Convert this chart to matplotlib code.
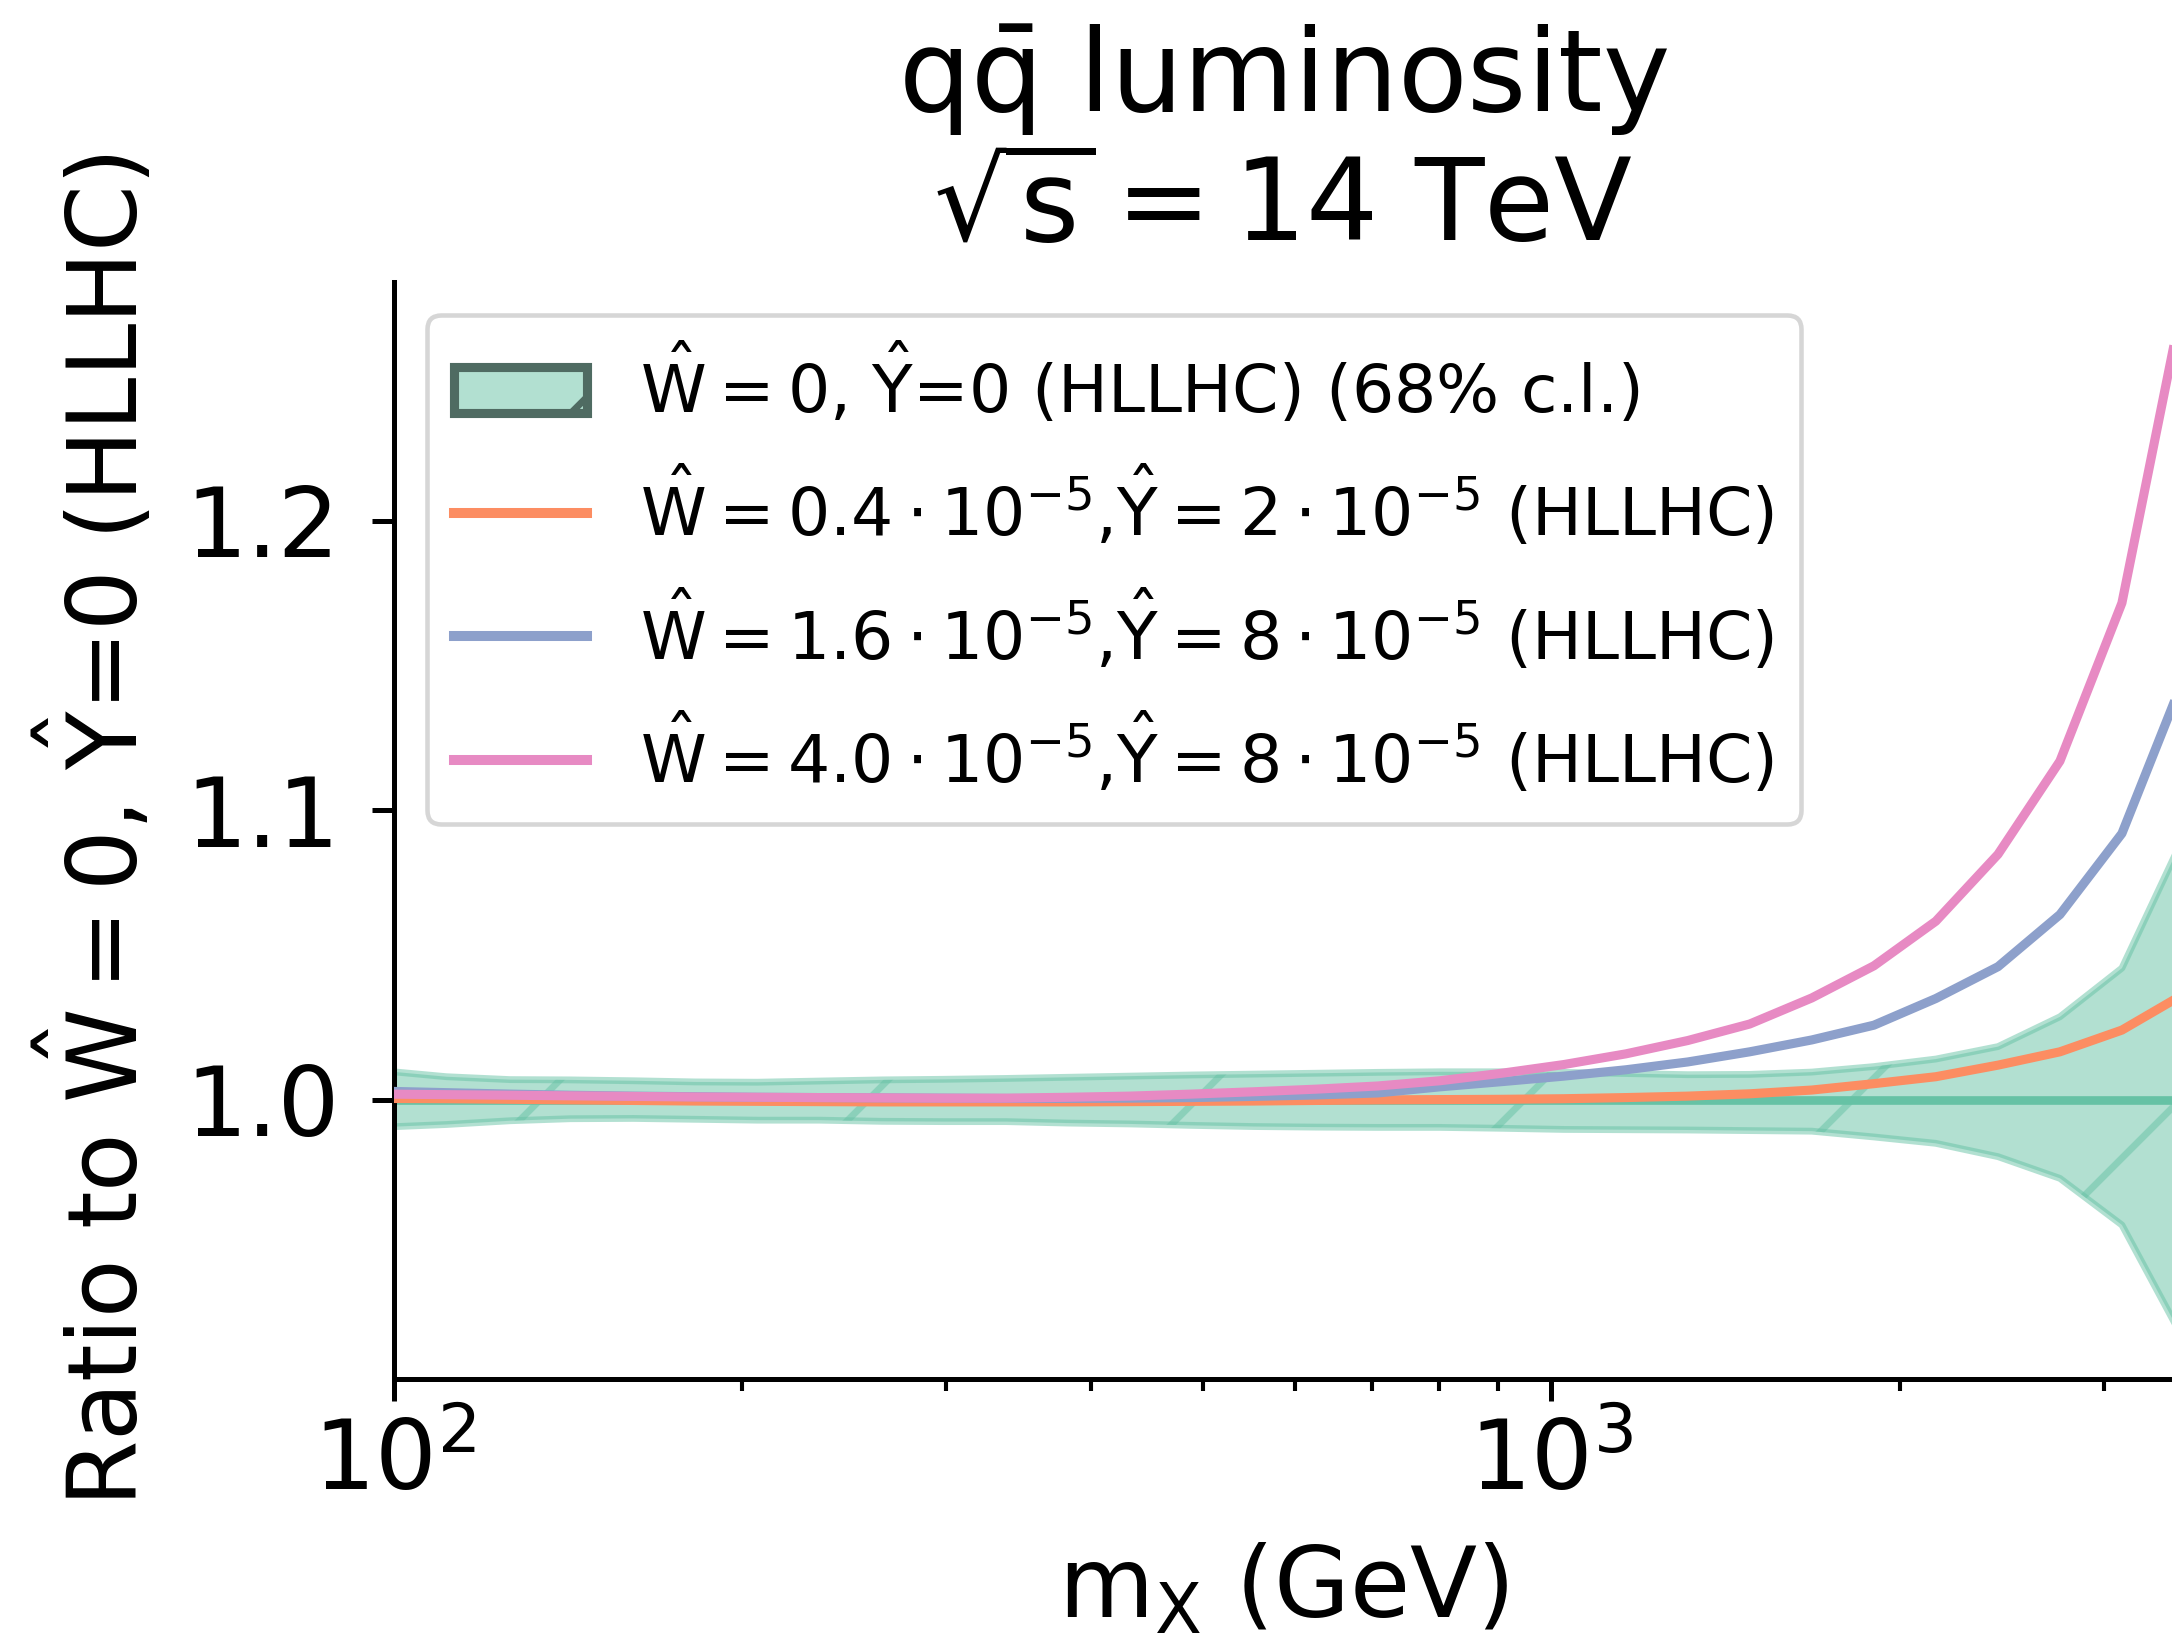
import numpy as np
import matplotlib.pyplot as plt
from matplotlib.patches import Patch
from matplotlib.ticker import MultipleLocator
from matplotlib.backend_bases import GraphicsContextBase

plt.rcParams['mathtext.default'] = 'regular'
plt.rcParams['hatch.linewidth'] = 1.5

# rayado más espaciado (como en el original)
_hatch_path = GraphicsContextBase.get_hatch_path
def _hatch_ralo(self, density=6.0):
    return _hatch_path(self, density=2.0)
GraphicsContextBase.get_hatch_path = _hatch_ralo

# ── datos ────────────────────────────────────────────────────────────────────
mx = [98, 111, 126, 142, 161, 182, 206, 233, 264, 298,
      338, 382, 432, 489, 553, 626, 708, 801, 906, 1025,
      1160, 1312, 1484, 1679, 1900, 2149, 2432, 2751, 3112, 3522]

band_hi = [1.0100, 1.0080, 1.0070, 1.0069, 1.0066, 1.0062, 1.0061, 1.0065, 1.0069, 1.0071,
           1.0074, 1.0078, 1.0082, 1.0086, 1.0089, 1.0092, 1.0095, 1.0097, 1.0097, 1.0095,
           1.0091, 1.0087, 1.0088, 1.0096, 1.0115, 1.0141, 1.0184, 1.0287, 1.0455, 1.0912]
band_lo = [0.9906, 0.9915, 0.9928, 0.9935, 0.9936, 0.9933, 0.9930, 0.9930, 0.9926, 0.9925,
           0.9925, 0.9920, 0.9917, 0.9912, 0.9908, 0.9906, 0.9905, 0.9905, 0.9902, 0.9898,
           0.9897, 0.9896, 0.9894, 0.9892, 0.9872, 0.9850, 0.9804, 0.9729, 0.9568, 0.9169]

r_orange = [1.0005, 1.0004, 1.0002, 1.0000, 0.9998, 0.9996, 0.9995, 0.9994, 0.9993, 0.9993,
            0.9993, 0.9993, 0.9994, 0.9995, 0.9996, 0.9998, 1.0000, 1.0001, 1.0002, 1.0004,
            1.0008, 1.0013, 1.0021, 1.0034, 1.0056, 1.0080, 1.0120, 1.0166, 1.0241, 1.0366]
r_blue = [1.0030, 1.0025, 1.0020, 1.0016, 1.0013, 1.0011, 1.0009, 1.0008, 1.0007, 1.0006,
          1.0005, 1.0005, 1.0006, 1.0008, 1.0012, 1.0017, 1.0024, 1.0045, 1.0063, 1.0082,
          1.0104, 1.0131, 1.0166, 1.0207, 1.0258, 1.0350, 1.0460, 1.0640, 1.0920, 1.1460]
r_pink = [1.0020, 1.0018, 1.0016, 1.0014, 1.0012, 1.0010, 1.0009, 1.0008, 1.0007, 1.0006,
          1.0006, 1.0009, 1.0013, 1.0020, 1.0028, 1.0037, 1.0048, 1.0066, 1.0092, 1.0122,
          1.0159, 1.0205, 1.0262, 1.0352, 1.0463, 1.0617, 1.0848, 1.1170, 1.1716, 1.2780]

verde, naranja, azul, rosa = '#66c2a5', '#fc8d62', '#8da0cb', '#e78ac3'

etiquetas = [
    r'$\hat{W} = 0$, $\hat{Y}$=0 (HLLHC) (68% c.l.)',
    r'$\hat{W} = 0.4\cdot10^{-5}$,$\hat{Y} = 2\cdot10^{-5}$ (HLLHC)',
    r'$\hat{W} = 1.6\cdot10^{-5}$,$\hat{Y} = 8\cdot10^{-5}$ (HLLHC)',
    r'$\hat{W} = 4.0\cdot10^{-5}$,$\hat{Y} = 8\cdot10^{-5}$ (HLLHC)',
]

# ── figura ───────────────────────────────────────────────────────────────────
DPI = 328
fig = plt.figure(figsize=(2172 / DPI, 1639 / DPI), dpi=DPI)
ax = fig.add_axes([0.1814, 0.1586, 0.8186, 0.6693])

ax.fill_between(mx, band_lo, band_hi, facecolor=verde, edgecolor=verde,
                alpha=0.5, hatch='/', lw=1.5, zorder=1)
ax.axhline(1.0, color=verde, lw=1.9, zorder=2)
ax.plot(mx, r_orange, color=naranja, lw=2.0, zorder=3)
ax.plot(mx, r_blue, color=azul, lw=2.0, zorder=4)
ax.plot(mx, r_pink, color=rosa, lw=2.0, zorder=5)

ax.set_xscale('log')
ax.set_xlim(100, 3438)
ax.set_ylim(0.9036, 1.2824)
ax.yaxis.set_major_locator(MultipleLocator(0.1))

for s in ['top', 'right']:
    ax.spines[s].set_visible(False)
for s in ['left', 'bottom']:
    ax.spines[s].set_linewidth(1.1)
ax.tick_params(which='major', length=4.9, width=1.1, labelsize=21.3)
ax.tick_params(axis='y', which='major', pad=7)
ax.tick_params(which='minor', length=2.6, width=0.9)

ax.set_xlabel(r'$m_X$ (GeV)', fontsize=21.5, labelpad=7)
ax.set_ylabel(r'Ratio to $\hat{W} = 0$, $\hat{Y}$=0 (HLLHC)', fontsize=21, labelpad=6)
ax.set_title('$q\\bar{q}$ luminosity\n$\\sqrt{s} = 14$ TeV', fontsize=25, pad=9)

handles = [
    Patch(facecolor=(0.4, 0.76, 0.647, 0.5), edgecolor='#4f6b62', hatch='/', lw=2),
    plt.Line2D([], [], color=naranja, lw=2.2),
    plt.Line2D([], [], color=azul, lw=2.2),
    plt.Line2D([], [], color=rosa, lw=2.2),
]
ax.legend(handles, etiquetas, loc='upper left', fontsize=14.6, labelspacing=0.57)

fig.savefig('out.png', dpi=DPI)
